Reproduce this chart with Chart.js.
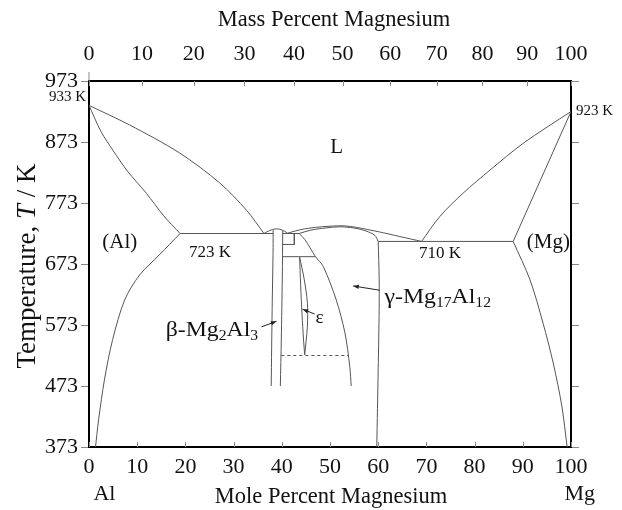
<!DOCTYPE html>
<html>
<head>
<meta charset="utf-8">
<title>Al-Mg phase diagram</title>
<script src="https://cdn.jsdelivr.net/npm/chart.js@4.4.0/dist/chart.umd.min.js"></script>
<style>
  html, body { margin: 0; padding: 0; background: #fff; }
  #wrap { width: 622px; height: 510px; }
</style>
</head>
<body>
<div id="wrap"><canvas id="phase"></canvas></div>
<script>
// axis ticks
var moleTicks = [0, 10, 20, 30, 40, 50, 60, 70, 80, 90, 100];
var tempTicks = [373, 473, 573, 673, 773, 873, 973];
var massTicks = [0, 10, 20, 30, 40, 50, 60, 70, 80, 90, 100];

// phase boundaries as [mole % Mg, T / K]
var alLiquidus = [[0, 933], [8.4, 901], [18.8, 855], [27.1, 806], [32.7, 761], [36.3, 723]];
var alSolidus = [[0, 933], [2.5, 890], [5, 859], [8, 825], [11.9, 789], [15.5, 752], [18.9, 723]];
var alSolvus = [[18.9, 723], [14.6, 688], [10.5, 655], [7.4, 614], [4.9, 549], [3.2, 483], [2.0, 418], [1.35, 373]];
var alEutectic = [[18.9, 723], [38.2, 723]];

var betaLiquidus = [[36.3, 723], [37.5, 728], [38.6, 730.5], [39.6, 730], [40.6, 726.5], [41.2, 723.5]];
var betaLeft = [[38.2, 729], [38.2, 700], [38.0, 600], [37.8, 473]];
var betaRight = [[40.2, 728], [40.1, 650], [39.9, 550], [39.7, 473]];
var betaGammaEutectic = [[40.2, 723], [43.6, 723]];
var boxUpper = [[40.2, 705], [42.6, 705]];
var boxSide = [[42.6, 723], [42.6, 705]];
var boxLower = [[40.2, 685], [47.0, 685]];

var gammaLiquidus = [[41.2, 723.5], [44, 729.5], [47, 733], [50, 735], [53, 735.5], [55.5, 733], [60, 726], [64.5, 718], [69, 710]];
var gammaSolidus = [[43.6, 723], [46, 728.5], [49, 732], [52, 734], [55, 732], [57.5, 727], [59.3, 720], [60, 710]];
var gammaLeft = [[43.6, 723], [44.8, 713], [47.0, 685], [48.6, 669], [51.3, 614], [53.1, 560], [54.1, 505], [54.4, 473]];
var gammaRight = [[60, 710], [60.2, 650], [60.2, 600], [60.0, 500], [59.7, 373]];

var epsLeft = [[43.7, 684], [43.9, 640], [44.2, 590], [44.5, 550], [44.75, 524]];
var epsRight = [[43.7, 684], [44.6, 650], [45.3, 610], [45.3, 570], [44.75, 524]];
var epsDashed = [[39.9, 523], [53.9, 523]];

var mgLiquidus = [[100, 923], [90.1, 871], [83.2, 827], [77.6, 789], [72.8, 751], [69, 710]];
var mgSolidus = [[100, 923], [88, 710]];
var mgSolvus = [[88, 710], [91.5, 647], [94.2, 576], [96.3, 511], [98.1, 440], [99.2, 373]];
var mgEutectic = [[60, 710], [88, 710]];

var M_MG = 24.305, M_AL = 26.982;
function massToMole(w) {
  if (w <= 0) return 0;
  if (w >= 100) return 100;
  var nMg = w / M_MG, nAl = (100 - w) / M_AL;
  return 100 * nMg / (nMg + nAl);
}

var SERIF = '"Liberation Serif", "Times New Roman", serif';
var LINE = '#555';

function curve(pts, extra) {
  return Object.assign({
    data: pts.map(function (p) { return { x: p[0], y: p[1] }; }),
    showLine: true,
    pointRadius: 0,
    borderColor: LINE,
    backgroundColor: LINE,
    borderWidth: 1,
    tension: 0.3,
    fill: false,
    xAxisID: 'x',
    yAxisID: 'y'
  }, extra || {});
}

// text labels placed in data units
var regionLabels = [
  { text: 'L', x: 51.4, y: 864, size: 21, align: 'center' },
  { text: '(Al)', x: 6.4, y: 709, size: 21, align: 'center' },
  { text: '723 K', x: 25.1, y: 692, size: 17, align: 'center' },
  { text: '710 K', x: 72.8, y: 690, size: 17, align: 'center' },
  { text: '(Mg)', x: 95.3, y: 708, size: 21, align: 'center' },
  { text: 'ε', x: 47.8, y: 584, size: 19, align: 'center' }
];

// parts: [{t, sub, it}], stretch widens the glyphs a little
function drawRich(ctx, parts, x, y, size, align, stretch) {
  stretch = stretch || 1;
  var w = 0;
  parts.forEach(function (p) {
    ctx.font = (p.it ? 'italic ' : '') + (p.sub ? size * 0.66 : size) + 'px ' + SERIF;
    p.w = ctx.measureText(p.t).width;
    w += p.w;
  });
  var x0 = align === 'center' ? x - w * stretch / 2 : (align === 'right' ? x - w * stretch : x);
  ctx.save();
  ctx.translate(x0, y);
  ctx.scale(stretch, 1);
  ctx.textAlign = 'left';
  ctx.textBaseline = 'middle';
  var cx = 0;
  parts.forEach(function (p) {
    ctx.font = (p.it ? 'italic ' : '') + (p.sub ? size * 0.66 : size) + 'px ' + SERIF;
    ctx.fillText(p.t, cx, p.sub ? size * 0.28 : 0);
    cx += p.w;
  });
  ctx.restore();
}

function arrow(ctx, x1, y1, x2, y2) {
  var a = Math.atan2(y2 - y1, x2 - x1), L = 6;
  ctx.beginPath();
  ctx.moveTo(x1, y1);
  ctx.lineTo(x2, y2);
  ctx.stroke();
  ctx.beginPath();
  ctx.moveTo(x2, y2);
  ctx.lineTo(x2 - L * Math.cos(a - 0.35), y2 - L * Math.sin(a - 0.35));
  ctx.lineTo(x2 - L * Math.cos(a + 0.35), y2 - L * Math.sin(a + 0.35));
  ctx.closePath();
  ctx.fill();
}

var decorations = {
  id: 'decorations',
  afterDraw: function (chart) {
    var ctx = chart.ctx, area = chart.chartArea;
    var sx = chart.scales.x, sy = chart.scales.y, sm = chart.scales.xm;
    var X = function (v) { return sx.getPixelForValue(v); };
    var Y = function (v) { return sy.getPixelForValue(v); };
    ctx.save();

    // inward ticks on top and bottom
    ctx.strokeStyle = '#888';
    ctx.lineWidth = 1;
    sx.ticks.forEach(function (t) {
      var p = Math.round(X(t.value)) + 0.5;
      ctx.beginPath(); ctx.moveTo(p, area.bottom); ctx.lineTo(p, area.bottom - 5); ctx.stroke();
    });
    sm.ticks.forEach(function (t) {
      var p = Math.round(sm.getPixelForValue(t.value)) + 0.5;
      ctx.beginPath(); ctx.moveTo(p, area.top); ctx.lineTo(p, area.top + 5); ctx.stroke();
    });
    ctx.beginPath(); ctx.moveTo(area.left, area.top); ctx.lineTo(area.left, area.top - 9); ctx.stroke();

    ctx.fillStyle = '#111';
    regionLabels.forEach(function (l) {
      drawRich(ctx, [{ t: l.text }], X(l.x), Y(l.y), l.size, l.align);
    });
    drawRich(ctx, [{ t: '933 K' }], area.left - 3, Y(947), 15, 'right');
    drawRich(ctx, [{ t: '923 K' }], area.right + 5, Y(923), 15, 'left');

    drawRich(ctx, [{ t: 'β-Mg' }, { t: '2', sub: true }, { t: 'Al' }, { t: '3', sub: true }], X(15.9), Y(565), 22, 'left', 1.08);
    drawRich(ctx, [{ t: 'γ-Mg' }, { t: '17', sub: true }, { t: 'Al' }, { t: '12', sub: true }], X(61.3), Y(619), 22, 'left', 1.08);

    ctx.strokeStyle = '#222';
    ctx.fillStyle = '#222';
    arrow(ctx, X(35.8), Y(570), X(38.9), Y(579));
    arrow(ctx, X(46.8), Y(591), X(44.3), Y(599));
    arrow(ctx, X(60.3), Y(630), X(54.8), Y(637));

    // axis titles
    ctx.fillStyle = '#111';
    var midX = (area.left + area.right) / 2;
    drawRich(ctx, [{ t: 'Mass Percent Magnesium' }], midX + 4, 20, 22.5, 'center');
    drawRich(ctx, [{ t: 'Mole Percent Magnesium' }], midX + 1, 497, 22.5, 'center');
    drawRich(ctx, [{ t: 'Al' }], X(3.2), 494, 22, 'center');
    drawRich(ctx, [{ t: 'Mg' }], X(101.8), 494, 22, 'center');

    ctx.translate(28, (area.top + area.bottom) / 2 + 2);
    ctx.rotate(-Math.PI / 2);
    drawRich(ctx, [{ t: 'Temperature, ' }, { t: 'T', it: true }, { t: ' / K' }], 0, 0, 27, 'center');
    ctx.restore();
  }
};

var tickFont = { family: SERIF, size: 22 };

new Chart(document.getElementById('phase'), {
  type: 'scatter',
  data: {
    datasets: [
      curve(alLiquidus), curve(alSolidus), curve(alSolvus), curve(alEutectic, { tension: 0 }),
      curve(betaLiquidus), curve(betaLeft), curve(betaRight),
      curve(betaGammaEutectic, { tension: 0 }), curve(boxUpper, { tension: 0 }),
      curve(boxSide, { tension: 0 }), curve(boxLower, { tension: 0 }),
      curve(gammaLiquidus), curve(gammaSolidus), curve(gammaLeft), curve(gammaRight),
      curve(epsLeft), curve(epsRight), curve(epsDashed, { tension: 0, borderDash: [3, 3] }),
      curve(mgLiquidus), curve(mgSolidus, { tension: 0 }), curve(mgSolvus), curve(mgEutectic, { tension: 0 })
    ]
  },
  options: {
    responsive: true,
    maintainAspectRatio: false,
    animation: false,
    layout: { padding: 0 },
    plugins: { legend: { display: false }, tooltip: { enabled: false } },
    scales: {
      x: {
        type: 'linear', position: 'bottom', min: 0, max: 100,
        afterBuildTicks: function (s) { s.ticks = moleTicks.map(function (v) { return { value: v }; }); },
        afterFit: function (s) { s.height = 63; },
        grid: { drawOnChartArea: false, drawTicks: false },
        border: { color: '#000', width: 2 },
        ticks: { color: '#111', font: tickFont, padding: 7, autoSkip: false, maxRotation: 0 }
      },
      xm: {
        type: 'linear', position: 'top', min: 0, max: 100,
        afterBuildTicks: function (s) { s.ticks = massTicks.map(function (m) { return { value: massToMole(m) }; }); },
        afterFit: function (s) { s.height = 81; },
        grid: { drawOnChartArea: false, drawTicks: false },
        border: { color: '#000', width: 2 },
        ticks: {
          color: '#111', font: tickFont, padding: 14, autoSkip: false, maxRotation: 0,
          callback: function (v, i) { return String(massTicks[i]); }
        }
      },
      y: {
        type: 'linear', position: 'left', min: 373, max: 973,
        afterBuildTicks: function (s) { s.ticks = tempTicks.map(function (v) { return { value: v }; }); },
        afterFit: function (s) { s.width = 89; },
        grid: { drawOnChartArea: false, drawTicks: true, tickLength: 8, color: '#888' },
        border: { color: '#000', width: 2 },
        ticks: { color: '#111', font: tickFont, padding: 3 }
      },
      yr: {
        type: 'linear', position: 'right', min: 373, max: 973,
        afterBuildTicks: function (s) { s.ticks = tempTicks.map(function (v) { return { value: v }; }); },
        afterFit: function (s) { s.width = 51; },
        grid: { drawOnChartArea: false, drawTicks: true, tickLength: 8, color: '#888' },
        border: { color: '#000', width: 2 },
        ticks: { display: false }
      }
    }
  },
  plugins: [decorations]
});
</script>
</body>
</html>
